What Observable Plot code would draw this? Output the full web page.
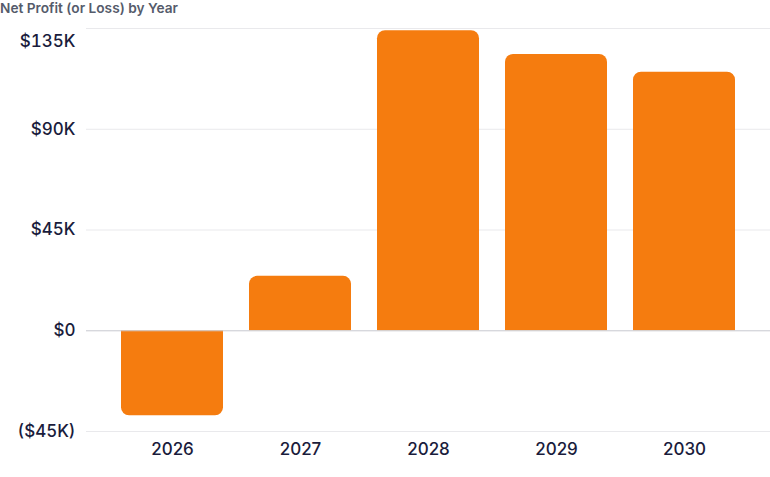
<!DOCTYPE html>
<html><head><meta charset="utf-8">
<script src="https://cdn.jsdelivr.net/npm/d3@7"></script>
<script src="https://cdn.jsdelivr.net/npm/@observablehq/plot@0.6"></script>
<style>
html,body{margin:0;padding:0;background:#fff;}
#title{font-family:Inter,sans-serif;font-weight:600;font-size:13.7px;color:#555b6b;height:18px;line-height:16px;padding-left:0;white-space:nowrap;}
</style></head><body>
<div id="title">Net Profit (or Loss) by Year</div>
<div id="chart"></div>
<script>
const years = ["2026","2027","2028","2029","2030"];
const profits = [-38, 24.3, 134, 123.4, 115.5]; // thousands of dollars
const yTicks = [-45, 0, 45, 90];
const yTopTick = [135];

const data = years.map((y, i) => ({year: y, value: profits[i]}));
const fmt = v => v === 0 ? "$0" : v < 0 ? `($${-v}K)` : `$${v}K`;
const navy = "#1a1c3c";
const orange = "#F57C0F";

const plot = Plot.plot({
  width: 770,
  height: 459,
  marginLeft: 86,
  marginRight: 0,
  marginTop: 10,
  marginBottom: 46,
  style: {fontFamily: "Inter, sans-serif", fontSize: "17px", color: navy, background: "#fff"},
  x: {domain: years, padding: 0.2, insetLeft: 8, insetRight: 8, label: null},
  y: {domain: [-45, 135], label: null},
  marks: [
    Plot.ruleY(yTicks.concat(yTopTick), {stroke: "#e9e9ec", strokeWidth: 1}),
    Plot.barY(data.filter(d => d.value >= 0), {x: "year", y1: 0, y2: "value", fill: orange, ry1: 8}),
    Plot.barY(data.filter(d => d.value < 0), {x: "year", y1: 0, y2: "value", fill: orange, ry2: 8}),
    Plot.ruleY([0], {stroke: "#cfd0d6", strokeWidth: 1}),
    Plot.axisY(yTicks, {tickSize: 0, tickPadding: 11, tickFormat: fmt, label: null, fill: navy, fontWeight: 500}),
    Plot.axisY(yTopTick, {tickSize: 0, tickPadding: 11, tickFormat: fmt, label: null, fill: navy, fontWeight: 500, dy: 13}),
    Plot.axisX({tickSize: 0, tickPadding: 11, label: null, fill: navy, fontWeight: 500})
  ]
});
document.getElementById("chart").appendChild(plot);
</script>
</body></html>
